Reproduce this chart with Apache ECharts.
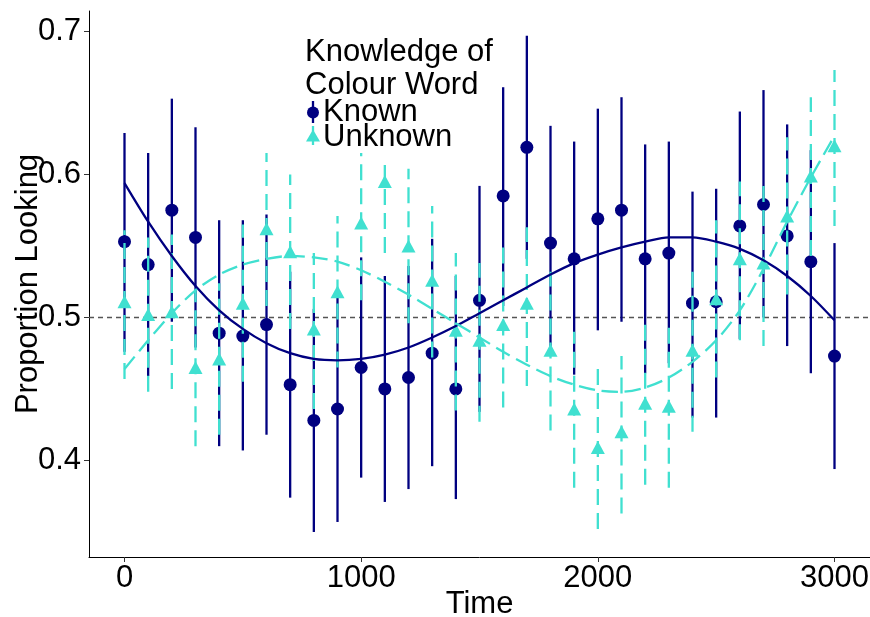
<!DOCTYPE html>
<html><head><meta charset="utf-8">
<script src="https://cdn.jsdelivr.net/npm/echarts@6/dist/echarts.min.js"></script>
<style>html,body{margin:0;padding:0;background:#fff}#c{width:870px;height:617px}</style>
</head><body><div id="c"></div>
<script>
const times = [0,100,200,300,400,500,600,700,800,900,1000,1100,1200,1300,1400,1500,1600,1700,1800,1900,2000,2100,2200,2300,2400,2500,2600,2700,2800,2900,3000];
const knownMean  = [0.553,0.537,0.575,0.556,0.489,0.487,0.495,0.453,0.428,0.436,0.465,0.450,0.458,0.475,0.450,0.512,0.585,0.619,0.552,0.541,0.569,0.575,0.541,0.545,0.510,0.511,0.564,0.579,0.557,0.539,0.473];
const knownLower = [0.476,0.459,0.497,0.479,0.410,0.407,0.418,0.374,0.350,0.357,0.388,0.371,0.380,0.396,0.373,0.434,0.508,0.541,0.473,0.460,0.491,0.497,0.461,0.468,0.430,0.430,0.485,0.500,0.480,0.461,0.394];
const knownUpper = [0.629,0.615,0.653,0.633,0.568,0.568,0.572,0.532,0.506,0.516,0.542,0.529,0.536,0.555,0.529,0.592,0.661,0.697,0.634,0.623,0.646,0.654,0.621,0.623,0.588,0.590,0.644,0.659,0.635,0.617,0.552];
const unknownMean  = [0.511,0.502,0.504,0.465,0.471,0.510,0.562,0.546,0.492,0.518,0.566,0.595,0.550,0.526,0.491,0.484,0.495,0.510,0.477,0.436,0.409,0.420,0.440,0.438,0.477,0.513,0.541,0.538,0.571,0.599,0.620];
const unknownLower = [0.457,0.448,0.450,0.410,0.418,0.455,0.508,0.492,0.436,0.465,0.512,0.545,0.496,0.472,0.435,0.427,0.437,0.452,0.421,0.381,0.352,0.363,0.383,0.381,0.420,0.458,0.484,0.480,0.516,0.543,0.564];
const unknownUpper = [0.561,0.556,0.558,0.520,0.524,0.565,0.615,0.600,0.545,0.571,0.615,0.612,0.604,0.578,0.545,0.538,0.549,0.563,0.532,0.490,0.464,0.473,0.496,0.494,0.532,0.568,0.595,0.592,0.626,0.654,0.673];
const knownFit   = [0.594,0.567,0.543,0.522,0.505,0.492,0.482,0.475,0.471,0.470,0.471,0.474,0.479,0.486,0.494,0.503,0.512,0.521,0.530,0.538,0.544,0.549,0.553,0.556,0.556,0.553,0.548,0.540,0.529,0.515,0.498];
const unknownFit = [0.464,0.484,0.503,0.519,0.530,0.537,0.541,0.543,0.542,0.539,0.533,0.525,0.516,0.506,0.496,0.486,0.476,0.467,0.459,0.453,0.449,0.448,0.451,0.458,0.469,0.484,0.505,0.534,0.567,0.598,0.627];
const xTicks = [0,1000,2000,3000];
const yTicks = [0.4,0.5,0.6,0.7];
const refLine = 0.5;
const seriesNames = ['Known','Unknown'];
const legendTitle = 'Knowledge of\nColour Word';

const NAVY = '#000080', TURQ = '#40E0D0';
const FONT = '"Liberation Sans", Arial, sans-serif';
const FS = 31;

const chart = echarts.init(document.getElementById('c'), null, {renderer:'canvas'});
const zip = (a,b) => times.map((t,i)=>[t, a[i], b ? b[i] : undefined]);

function errRender(color, dash) {
  return function(params, api) {
    const p1 = api.coord([api.value(0), api.value(1)]);
    const p2 = api.coord([api.value(0), api.value(2)]);
    return {type:'line', shape:{x1:p1[0], y1:p1[1], x2:p2[0], y2:p2[1]},
      style:{stroke:color, lineWidth:2.3, lineDash:dash || null}};
  };
}

const option = {
  backgroundColor:'#fff',
  animation:false,
  grid:{left:89, top:11, width:781, height:546, containLabel:false, outerBoundsMode:'none'},
  xAxis:{type:'value', min:-150, max:3150,
    name:'Time', nameLocation:'middle', nameGap:32, nameMoveOverlap:false,
    nameTextStyle:{fontFamily:FONT, fontSize:FS, color:'#000'},
    axisLine:{show:true, onZero:false, lineStyle:{color:'#000', width:1}},
    axisTick:{show:true, length:5, customValues:xTicks, lineStyle:{color:'#333'}},
    axisLabel:{customValues:xTicks, fontFamily:FONT, fontSize:FS, color:'#000', margin:6,
      formatter:v=>String(v)},
    splitLine:{show:false}},
  yAxis:{type:'value', min:0.3325, max:0.7143,
    name:'Proportion Looking', nameLocation:'middle', nameGap:45, nameMoveOverlap:false,
    nameTextStyle:{fontFamily:FONT, fontSize:FS, color:'#000'},
    axisLine:{show:true, onZero:false, lineStyle:{color:'#000', width:1}},
    axisTick:{show:true, length:5, customValues:yTicks, lineStyle:{color:'#333'}},
    axisLabel:{customValues:yTicks, fontFamily:FONT, fontSize:FS, color:'#000', margin:8,
      formatter:v=>v.toFixed(1)},
    splitLine:{show:false}},
  series:[
    {type:'line', name:'ref', data:[[-150,refLine],[3150,refLine]], symbol:'none', silent:true, z:1,
      lineStyle:{color:'#555', width:1.5, type:[5,4]}},
    {type:'custom', name:'KnownCI', renderItem:errRender(NAVY), data:zip(knownLower, knownUpper),
      encode:{x:0, y:[1,2]}, z:2},
    {type:'scatter', name:seriesNames[0], data:zip(knownMean), symbol:'circle', symbolSize:13,
      itemStyle:{color:NAVY, opacity:1}, z:3},
    {type:'custom', name:'UnknownCI', renderItem:errRender(TURQ,[16,8]), data:zip(unknownLower, unknownUpper),
      encode:{x:0, y:[1,2]}, z:4},
    {type:'scatter', name:seriesNames[1], data:zip(unknownMean), symbol:'triangle', symbolSize:[14,13],
      itemStyle:{color:TURQ, opacity:1}, z:5},
    {type:'line', name:'KnownFit', data:zip(knownFit), symbol:'none', smooth:0.3, z:6,
      lineStyle:{color:NAVY, width:2.3}},
    {type:'line', name:'UnknownFit', data:zip(unknownFit), symbol:'none', smooth:0.3, z:6,
      lineStyle:{color:TURQ, width:2.3, type:[16,7]}}
  ],
  graphic:[
    {type:'text', left:305, top:36, z:100, style:{text:legendTitle, font:FS+'px '+FONT, fill:'#000', lineHeight:33}},
    {type:'line', shape:{x1:313,y1:101,x2:313,y2:123}, style:{stroke:NAVY, lineWidth:2.3}, z:100},
    {type:'circle', shape:{cx:313, cy:112.5, r:6}, style:{fill:NAVY}, z:100},
    {type:'text', left:323, top:97, z:100, style:{text:seriesNames[0], font:FS+'px '+FONT, fill:'#000', lineHeight:31}},
    {type:'line', shape:{x1:313,y1:126,x2:313,y2:147}, style:{stroke:TURQ, lineWidth:2.3, lineDash:[8,3]}, z:100},
    {type:'polygon', shape:{points:[[313,129.5],[306,141.5],[320,141.5]]}, style:{fill:TURQ}, z:100},
    {type:'text', left:323, top:121.5, z:100, style:{text:seriesNames[1], font:FS+'px '+FONT, fill:'#000', lineHeight:31}}
  ]
};
chart.setOption(option);
</script></body></html>
